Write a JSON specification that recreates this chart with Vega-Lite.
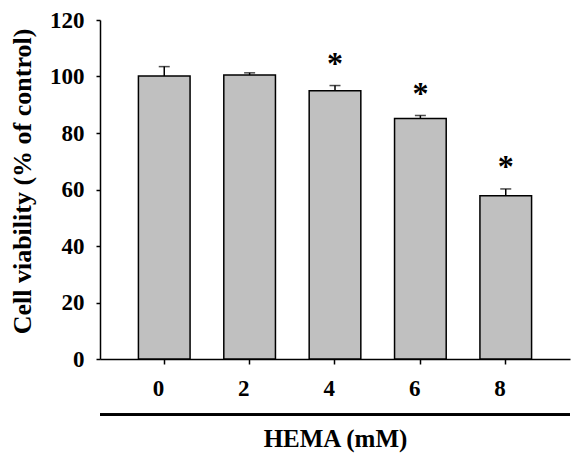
{
  "$schema": "https://vega.github.io/schema/vega-lite/v6.json",
  "width": 470,
  "height": 339,
  "autosize": {"type": "none"},
  "padding": {"left": 100, "top": 20, "right": 1, "bottom": 96},
  "background": "white",
  "config": {
    "view": {"stroke": null},
    "font": "Liberation Serif",
    "axis": {"labelFont": "Liberation Serif", "titleFont": "Liberation Serif", "labelFontWeight": "bold", "titleFontWeight": "bold", "labelColor": "black", "titleColor": "black", "domainColor": "black", "tickColor": "black", "domainWidth": 1.5, "tickWidth": 1.5, "grid": false}
  },
  "data": {"values": [
    {"dose": "0", "mean": 100.2, "err": 3.3, "star": null},
    {"dose": "2", "mean": 100.5, "err": 0.8, "star": null},
    {"dose": "4", "mean": 95.0, "err": 1.8, "star": 106},
    {"dose": "6", "mean": 85.1, "err": 1.1, "star": 95.2},
    {"dose": "8", "mean": 57.8, "err": 2.4, "star": 69.3}
  ]},
  "transform": [{"calculate": "datum.mean + datum.err", "as": "upper"}],
  "layer": [
    {
      "mark": {"type": "rule", "color": "black", "strokeWidth": 1.5},
      "encoding": {
        "x": {"field": "dose", "type": "ordinal", "sort": null},
        "y": {"field": "mean", "type": "quantitative"},
        "y2": {"field": "upper"}
      }
    },
    {
      "mark": {"type": "tick", "color": "black", "thickness": 1.5, "size": 11, "orient": "horizontal"},
      "encoding": {
        "x": {"field": "dose", "type": "ordinal", "sort": null},
        "y": {"field": "upper", "type": "quantitative"}
      }
    },
    {
      "mark": {"type": "bar", "fill": "#c0c0c0", "stroke": "black", "strokeWidth": 1.5},
      "encoding": {
        "x": {"field": "dose", "type": "ordinal", "sort": null,
          "scale": {"paddingInner": 0.395, "paddingOuter": 0.45},
          "axis": {"title": "HEMA (mM)", "labelAngle": 0, "labelFontSize": 23, "titleFontSize": 25, "tickSize": 5, "labelPadding": 24, "titlePadding": 26}},
        "y": {"field": "mean", "type": "quantitative",
          "scale": {"domain": [0, 120]},
          "axis": {"title": "Cell viability (% of control)", "values": [0, 20, 40, 60, 80, 100, 120], "labelFontSize": 23, "titleFontSize": 26, "tickSize": 4, "labelPadding": 12, "titlePadding": 14, "titleY": 161}}
      }
    },
    {
      "transform": [{"filter": "datum.star != null"}],
      "mark": {"type": "text", "text": "*", "fontSize": 32, "fontWeight": "bold", "font": "Liberation Serif", "baseline": "middle", "dy": 4},
      "encoding": {
        "x": {"field": "dose", "type": "ordinal", "sort": null},
        "y": {"field": "star", "type": "quantitative"}
      }
    },
    {
      "mark": {"type": "rule", "color": "black", "strokeWidth": 2.5},
      "encoding": {"y": {"datum": -19.7}}
    }
  ]
}
